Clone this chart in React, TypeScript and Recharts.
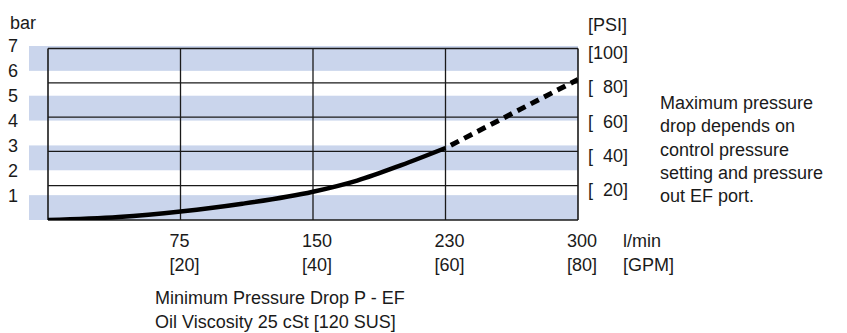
import React from 'react';
import { ComposedChart, Line, XAxis, YAxis, ReferenceLine, ReferenceArea } from 'recharts';

// x axis: flow, gridlines every quarter of the range
const flowTicks = [75, 150, 225, 300];
const flowLabels = ['75', '150', '230', '300'];
const gpmLabels = ['[20]', '[40]', '[60]', '[80]'];

// left axis in bar, right axis in PSI
const barTicks = [1, 2, 3, 4, 5, 6, 7];
const psiTicks = [20, 40, 60, 80, 100];
const psiLabels = ['[\u200720]', '[\u200740]', '[\u200760]', '[\u200780]', '[100]'];
const bandRanges = [[0, 1], [2, 3], [4, 5], [6, 7]];

// minimum pressure drop (solid) in PSI
const minFlow = [0, 40, 75, 110, 150, 175, 200, 225];
const minPsi = [0, 1.8, 5, 9.5, 16.5, 23, 32, 42];
// maximum pressure drop (dashed)
const maxFlow = [225, 300];
const maxPsi = [42, 82];

const noteLines = [
  'Maximum pressure',
  'drop depends on',
  'control pressure',
  'setting and pressure',
  'out EF port.',
];
const captionLines = ['Minimum Pressure Drop P - EF', 'Oil Viscosity 25 cSt [120 SUS]'];

const FONT = '"Liberation Sans", Arial, sans-serif';
const INK = '#1a1a1a';
const BAND = '#cad5ec';

type Row = { flow: number; min?: number; max?: number };

function buildRows(): Row[] {
  const rows: Row[] = minFlow.map((f, i) => ({ flow: f, min: minPsi[i] }));
  maxFlow.forEach((f, i) => {
    const hit = rows.find((r) => r.flow === f);
    if (hit) hit.max = maxPsi[i];
    else rows.push({ flow: f, max: maxPsi[i] });
  });
  return rows.sort((a, b) => a.flow - b.flow);
}

const data = buildRows();

const FlowTick = (props: any) => {
  const { x, y, payload } = props;
  const i = flowTicks.indexOf(payload.value);
  return (
    <g fontFamily={FONT} fontSize={18} fill={INK}>
      <text x={x - 11} y={y + 26.5}>{flowLabels[i]}</text>
      <text x={x - 11} y={y + 50.7}>{gpmLabels[i]}</text>
    </g>
  );
};

const Band = (props: any) => (
  <rect x={props.x - 19} y={props.y} width={props.width + 19} height={props.height} fill={BAND} />
);

export default function App() {
  return (
    <div style={{ position: 'relative', width: 847, height: 333 }}>
      <style>{'body{margin:0}'}</style>
      <ComposedChart
        width={847}
        height={333}
        data={data}
        margin={{ top: 46, right: 209, left: 0, bottom: 53 }}
      >
        <XAxis
          dataKey="flow"
          type="number"
          domain={[0, 300]}
          ticks={flowTicks}
          interval={0}
          allowDataOverflow
          axisLine={false}
          tickLine={false}
          tickSize={0}
          tickMargin={0}
          height={60}
          tick={<FlowTick />}
        />
        <YAxis
          yAxisId="bar"
          orientation="left"
          type="number"
          domain={[0, 7]}
          ticks={barTicks}
          interval={0}
          allowDataOverflow
          axisLine={false}
          tickLine={false}
          tickSize={0}
          tickMargin={30}
          width={48}
          tick={{ fill: INK, fontSize: 18, fontFamily: FONT }}
        />
        <YAxis
          yAxisId="psi"
          orientation="right"
          type="number"
          domain={[0, 101.5]}
          ticks={psiTicks}
          interval={0}
          allowDataOverflow
          axisLine={false}
          tickLine={false}
          tickSize={0}
          tickMargin={10}
          width={60}
          tickFormatter={(v: number) => psiLabels[psiTicks.indexOf(v)]}
          tick={{ fill: INK, fontSize: 18, fontFamily: FONT, dy: 4 }}
        />

        {bandRanges.map(([a, b]) => (
          <ReferenceArea key={`band-${a}`} yAxisId="bar" y1={a} y2={b} shape={<Band />} />
        ))}

        {[0, ...psiTicks].map((v) => (
          <ReferenceLine key={`h-${v}`} yAxisId="psi" y={v} stroke={INK} strokeWidth={v === 0 || v === 100 ? 1.6 : 1.3} />
        ))}
        {[0, ...flowTicks].map((f) => (
          <ReferenceLine
            key={`v-${f}`}
            yAxisId="psi"
            segment={[{ x: f, y: 0 }, { x: f, y: 100 }]}
            stroke={INK}
            strokeWidth={f === 0 || f === 300 ? 1.6 : 1.3}
          />
        ))}

        <Line
          yAxisId="psi"
          type="monotone"
          dataKey="min"
          stroke="#000"
          strokeWidth={4.5}
          dot={false}
          activeDot={false}
          isAnimationActive={false}
        />
        <Line
          yAxisId="psi"
          type="linear"
          dataKey="max"
          stroke="#000"
          strokeWidth={5}
          strokeDasharray="9 6"
          strokeDashoffset={9}
          dot={false}
          activeDot={false}
          connectNulls
          isAnimationActive={false}
        />
      </ComposedChart>

      <svg
        width={847}
        height={333}
        style={{ position: 'absolute', left: 0, top: 0, pointerEvents: 'none' }}
        fontFamily={FONT}
        fontSize={18}
        fill={INK}
      >
        <text x={10} y={28.5}>bar</text>
        <text x={588} y={30.5}>[PSI]</text>
        <text x={623} y={246.7}>l/min</text>
        <text x={623} y={270.7}>[GPM]</text>
        {noteLines.map((t, i) => (
          <text key={t} x={660} y={109.3 + i * 23.1}>{t}</text>
        ))}
        {captionLines.map((t, i) => (
          <text key={t} x={155} y={304 + i * 23.7}>{t}</text>
        ))}
      </svg>
    </div>
  );
}
